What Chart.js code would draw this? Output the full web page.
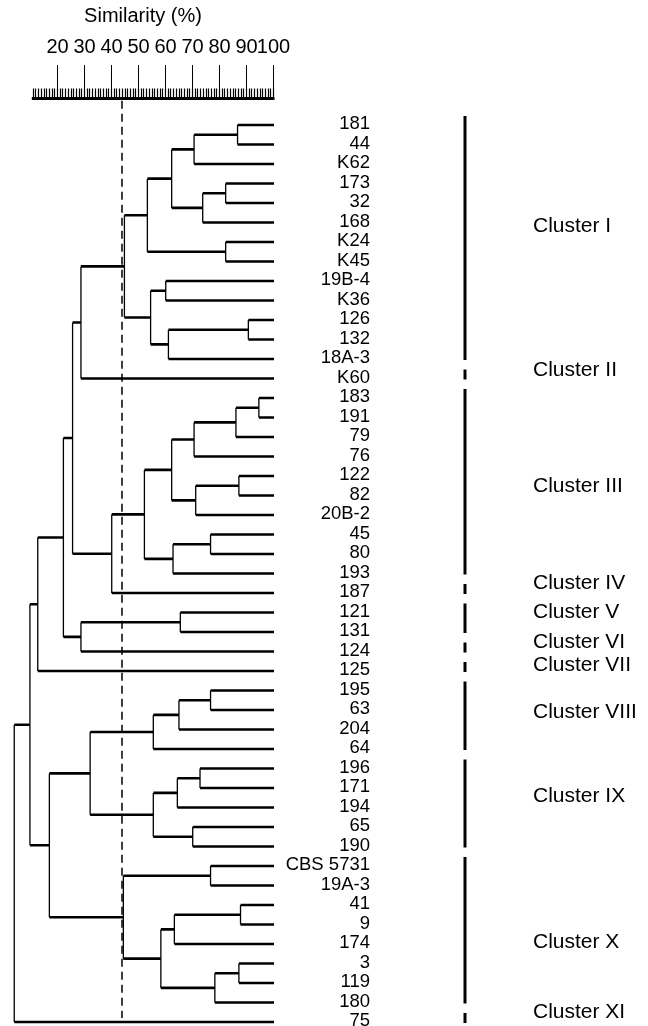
<!DOCTYPE html>
<html>
<head>
<meta charset="utf-8">
<script src="https://cdn.jsdelivr.net/npm/chart.js@4.4.0/dist/chart.umd.min.js"></script>
<style>
  html, body { margin: 0; padding: 0; background: #fff; }
</style>
</head>
<body>
<canvas id="dendro" width="648" height="1026"></canvas>
<script>
  // Leaves, top to bottom
  const leafLabels = ['181', '44', 'K62', '173', '32', '168', 'K24', 'K45', '19B-4', 'K36',
    '126', '132', '18A-3', 'K60', '183', '191', '79', '76', '122', '82', '20B-2', '45', '80',
    '193', '187', '121', '131', '124', '125', '195', '63', '204', '64', '196', '171', '194',
    '65', '190', 'CBS 5731', '19A-3', '41', '9', '174', '3', '119', '180', '75'];

  // Merges: ids < 47 are leaves, id 47 + k is merge k
  const mergeLeft = [0, 47, 3, 49, 48, 6, 51, 8, 10, 55, 54, 53, 58, 14, 60, 61, 18, 63, 62,
    21, 66, 65, 68, 59, 25, 71, 70, 73, 29, 75, 76, 33, 78, 36, 79, 77, 38, 40, 84, 43, 86, 85,
    83, 82, 74, 91];
  const mergeRight = [1, 2, 4, 5, 50, 7, 52, 9, 11, 12, 56, 57, 13, 15, 16, 17, 19, 20, 64,
    22, 23, 67, 24, 69, 26, 27, 72, 28, 30, 31, 32, 34, 35, 37, 80, 81, 39, 41, 42, 44, 45, 87,
    88, 89, 90, 46];
  const mergeSimilarity = [86.5, 70.4, 82.1, 73.6, 62.1, 82.1, 53.1, 59.9, 90.5, 60.9, 54.3,
    44.6, 28.5, 94.4, 85.9, 70.4, 87.0, 71.0, 62.1, 76.5, 62.6, 52.0, 39.9, 25.4, 65.3, 28.5,
    22.0, 12.5, 76.5, 64.8, 55.3, 72.6, 64.2, 69.9, 55.3, 31.9, 76.5, 87.6, 63.1, 87.0, 78.1,
    58.1, 44.2, 16.8, 9.6, 3.8];

  const cutoffSimilarity = 43.7;

  // Ruler
  const tickValues = [20, 30, 40, 50, 60, 70, 80, 90, 100];
  const tickLabels = ['20', '30', '40', '50', '60', '70', '80', '90', '100'];

  // Clusters (leaf index ranges)
  const clusterNames = ['Cluster I', 'Cluster II', 'Cluster III', 'Cluster IV', 'Cluster V',
    'Cluster VI', 'Cluster VII', 'Cluster VIII', 'Cluster IX', 'Cluster X', 'Cluster XI'];
  const clusterFirstLeaf = [0, 13, 14, 24, 25, 27, 28, 29, 33, 38, 46];
  const clusterLastLeaf = [12, 13, 23, 24, 26, 27, 28, 32, 37, 45, 46];

  // layout (label rows in leaf units)
  const clusterLabelRow = [5.2, 12.6, 18.5, 23.5, 25.0, 26.5, 27.7, 30.1, 34.4, 41.9, 45.5];
  const FONT = '"Liberation Sans", Arial, Helvetica, sans-serif';
  const INK = '#000';

  // build the tree segments
  const nLeaves = leafLabels.length;
  const nodeX = [], nodeY = [];
  for (let i = 0; i < nLeaves; i++) { nodeX.push(100); nodeY.push(i); }
  const hPts = [], vPts = [];
  const gap = { x: null, y: null };
  mergeLeft.forEach((a, k) => {
    const b = mergeRight[k], s = mergeSimilarity[k];
    vPts.push({ x: s, y: nodeY[a] }, { x: s, y: nodeY[b] }, gap);
    hPts.push({ x: s, y: nodeY[a] }, { x: nodeX[a], y: nodeY[a] }, gap);
    hPts.push({ x: s, y: nodeY[b] }, { x: nodeX[b], y: nodeY[b] }, gap);
    nodeX.push(s);
    nodeY.push((nodeY[a] + nodeY[b]) / 2);
  });

  const decor = {
    id: 'decor',
    afterDraw(chart) {
      const { ctx, scales: { x, y } } = chart;
      const axisY = 98.5;
      ctx.save();
      ctx.strokeStyle = INK;
      ctx.fillStyle = INK;

      // ruler
      ctx.lineWidth = 3;
      ctx.beginPath();
      ctx.moveTo(x.getPixelForValue(10.3), axisY);
      ctx.lineTo(x.getPixelForValue(100) + 0.5, axisY);
      ctx.stroke();
      ctx.lineWidth = 1.2;
      for (let v = 11; v <= 100; v++) {
        const px = Math.round(x.getPixelForValue(v)) - 0.5;
        ctx.beginPath();
        ctx.moveTo(px, axisY);
        ctx.lineTo(px, axisY - 10);
        ctx.stroke();
      }
      ctx.lineWidth = 1;
      ctx.font = '20px ' + FONT;
      ctx.textAlign = 'center';
      ctx.textBaseline = 'middle';
      tickValues.forEach((v, i) => {
        const px = Math.round(x.getPixelForValue(v)) - 0.5;
        ctx.beginPath();
        ctx.moveTo(px, axisY);
        ctx.lineTo(px, 65);
        ctx.stroke();
        ctx.fillText(tickLabels[i], px, 47);
      });
      ctx.fillText('Similarity (%)', 143, 16);

      // leaf labels
      ctx.font = '18.5px ' + FONT;
      ctx.textAlign = 'right';
      leafLabels.forEach((lab, i) => {
        ctx.fillText(lab, 370, y.getPixelForValue(i) - 1);
      });

      // cluster bars and names
      ctx.lineWidth = 3;
      ctx.font = '21px ' + FONT;
      ctx.textAlign = 'left';
      clusterNames.forEach((name, c) => {
        ctx.beginPath();
        ctx.moveTo(465, y.getPixelForValue(clusterFirstLeaf[c]) - 9);
        ctx.lineTo(465, y.getPixelForValue(clusterLastLeaf[c]) + 1);
        ctx.stroke();
        ctx.fillText(name, 533, y.getPixelForValue(clusterLabelRow[c]));
      });
      ctx.restore();
    }
  };

  const lineBase = {
    type: 'line',
    borderColor: INK,
    pointRadius: 0,
    fill: false,
    spanGaps: false,
    tension: 0,
    clip: false
  };

  new Chart(document.getElementById('dendro'), {
    type: 'line',
    data: {
      datasets: [
        Object.assign({}, lineBase, { label: 'horizontal', data: hPts, borderWidth: 2.6 }),
        Object.assign({}, lineBase, { label: 'vertical', data: vPts, borderWidth: 1.3 }),
        Object.assign({}, lineBase, {
          label: 'cutoff',
          data: [{ x: cutoffSimilarity, y: -1.25 }, { x: cutoffSimilarity, y: 45.8 }],
          borderWidth: 1.5,
          borderDash: [8, 5]
        })
      ]
    },
    options: {
      responsive: false,
      animation: false,
      layout: { padding: { left: 4, right: 374, top: 125, bottom: 4 } },
      plugins: { legend: { display: false }, tooltip: { enabled: false } },
      scales: {
        x: { type: 'linear', min: 0, max: 100, display: false },
        y: { type: 'linear', min: 0, max: 46, reverse: true, display: false }
      }
    },
    plugins: [decor]
  });
</script>
</body>
</html>
